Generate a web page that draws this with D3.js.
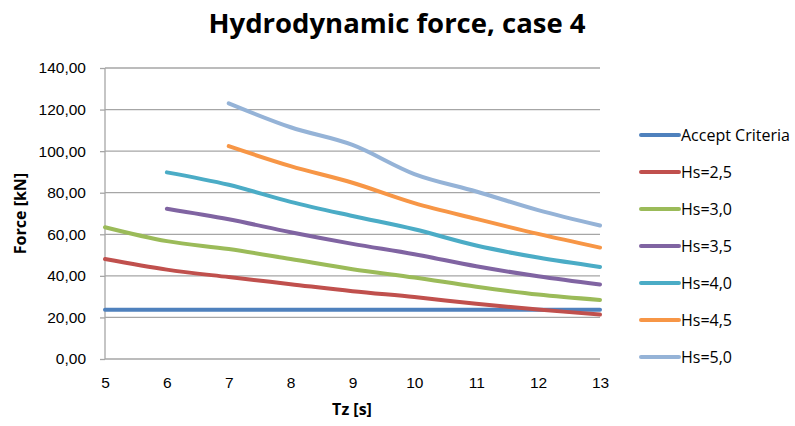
<!DOCTYPE html>
<html lang="en">
<head>
<meta charset="UTF-8">
<title>Hydrodynamic force, case 4</title>
<script src="https://d3js.org/d3.v7.min.js"></script>
<style>
	body { margin: 0; background: #fff; }
	svg { font-family: "Open Sans", sans-serif; }
	.grid line { stroke: #a6a6a6; stroke-width: 1.3; }
	.axis path, .axis line { stroke: #a6a6a6; stroke-width: 1.3; }
	.axis text { fill: #000; font-size: 15.5px; }
</style>
</head>
<body>
<script>
	// wave period Tz [s]
	var tz = [5, 6, 7, 8, 9, 10, 11, 12, 13];

	var seriesNames = ["Accept Criteria", "Hs=2,5", "Hs=3,0", "Hs=3,5", "Hs=4,0", "Hs=4,5", "Hs=5,0"];
	var colors = ["#4f81bd", "#c0504d", "#9bbb59", "#8064a2", "#4bacc6", "#f79646", "#95b3d7"];

	// force [kN], null where no value
	var acceptCriteria = [23.7, 23.7, 23.7, 23.7, 23.7, 23.7, 23.7, 23.7, 23.7];
	var hs25 = [48.1, 43.0, 39.4, 36.0, 32.6, 29.8, 26.6, 23.8, 21.4];
	var hs30 = [63.4, 56.7, 52.9, 48.1, 43.2, 39.2, 34.8, 31.0, 28.4];
	var hs35 = [null, 72.3, 67.2, 61.0, 55.4, 50.4, 44.6, 39.8, 35.8];
	var hs40 = [null, 89.8, 83.8, 75.6, 68.8, 62.4, 54.6, 48.8, 44.3];
	var hs45 = [null, null, 102.4, 92.8, 84.8, 75.0, 67.4, 60.2, 53.6];
	var hs50 = [null, null, 123.0, 111.5, 103.0, 89.0, 80.6, 71.6, 64.2];

	var yTicks = [0, 20, 40, 60, 80, 100, 120, 140];

	var allSeries = [acceptCriteria, hs25, hs30, hs35, hs40, hs45, hs50];

	var width = 795,
		height = 426;

	var margin = {left: 105, right: 195, top: 68, bottom: 67};

	var svg = d3.select("body").append("svg")
		.attr("width", width)
		.attr("height", height);

	var x = d3.scaleLinear()
		.domain([5, 13])
		.range([margin.left, width - margin.right]);

	var y = d3.scaleLinear()
		.domain([0, 140])
		.range([height - margin.bottom, margin.top]);

	// horizontal grid
	svg.append("g")
		.attr("class", "grid")
		.selectAll("line")
		.data(yTicks.slice(1))
		.enter().append("line")
		.attr("x1", x(5))
		.attr("x2", x(13))
		.attr("y1", function (d) { return y(d); })
		.attr("y2", function (d) { return y(d); });

	// y axis
	var yAxis = svg.append("g")
		.attr("class", "axis")
		.attr("transform", "translate(" + x(5) + ",0)")
		.call(d3.axisLeft(y)
			.tickValues(yTicks)
			.tickSize(5)
			.tickPadding(14)
			.tickFormat(function (d) { return d3.format(".2f")(d).replace(".", ","); }));
	yAxis.select(".domain").attr("d", "M0," + y(0) + "V" + y(140));

	// x axis
	var xAxis = svg.append("g")
		.attr("class", "axis")
		.attr("transform", "translate(0," + y(0) + ")")
		.call(d3.axisBottom(x)
			.tickValues(tz)
			.tickSize(0)
			.tickPadding(18)
			.tickFormat(d3.format("d")));
	xAxis.select(".domain").attr("d", "M" + x(5) + ",0H" + x(13));

	// lines
	var line = d3.line()
		.defined(function (d) { return d[1] != null; })
		.x(function (d) { return x(d[0]); })
		.y(function (d) { return y(d[1]); })
		.curve(d3.curveCardinal.tension(0));

	allSeries.forEach(function (s, i) {
		var pts = tz.map(function (t, j) { return [t, s[j]]; })
			.filter(function (d) { return d[1] != null; });
		svg.append("path")
			.datum(pts)
			.attr("fill", "none")
			.attr("stroke", colors[i])
			.attr("stroke-width", 4)
			.attr("stroke-linecap", "round")
			.attr("d", line);
	});

	// legend
	var legend = svg.append("g")
		.selectAll("g")
		.data(seriesNames)
		.enter().append("g")
		.attr("transform", function (d, i) { return "translate(640," + (135 + i * 37) + ")"; });

	legend.append("line")
		.attr("x1", 1).attr("x2", 39)
		.attr("stroke", function (d, i) { return colors[i]; })
		.attr("stroke-width", 4)
		.attr("stroke-linecap", "round");

	legend.append("text")
		.attr("x", 41)
		.attr("dy", "0.35em")
		.style("font-size", "16px")
		.text(function (d) { return d; });

	// titles
	svg.append("text")
		.attr("x", 397)
		.attr("y", 33)
		.attr("text-anchor", "middle")
		.style("font-size", "27.5px")
		.style("font-weight", "bold")
		.text("Hydrodynamic force, case 4");

	svg.append("text")
		.attr("x", 352)
		.attr("y", 415)
		.attr("text-anchor", "middle")
		.style("font-size", "16px")
		.style("font-weight", "bold")
		.text("Tz [s]");

	svg.append("text")
		.attr("transform", "translate(26," + ((y(0) + y(140)) / 2) + ") rotate(-90)")
		.attr("text-anchor", "middle")
		.style("font-size", "16px")
		.style("font-weight", "bold")
		.text("Force [kN]");
</script>
</body>
</html>
